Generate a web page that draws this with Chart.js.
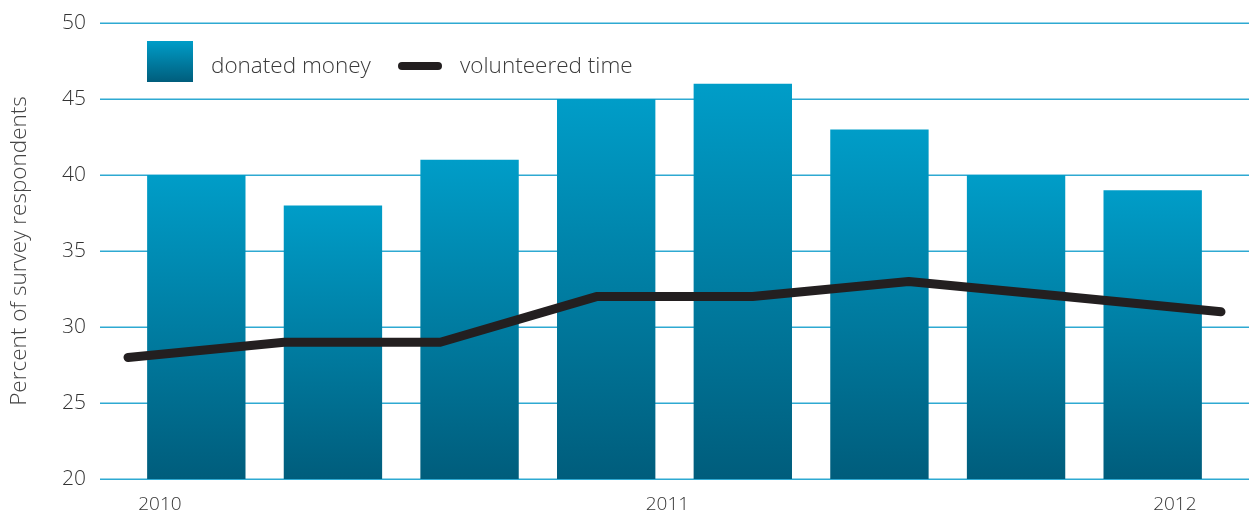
<!DOCTYPE html>
<html>
<head>
<meta charset="utf-8" />
<script src="https://cdn.jsdelivr.net/npm/chart.js"></script>
<style>
  html, body { margin: 0; padding: 0; background: #fff; }
  #wrap { position: relative; width: 1249px; height: 513px; }
  canvas { position: absolute; left: 0; top: 0; }
  .legend { position: absolute; font-family: "Open Sans", sans-serif; font-weight: 300; font-size: 22.5px; color: #3a3a3a; line-height: 30px; }
  .swatch { position: absolute; left: 147px; top: 41px; width: 46px; height: 41px;
    background: linear-gradient(#009dc8, #005d7c); }
  .dash { position: absolute; left: 398px; top: 62px; width: 44px; height: 8px; border-radius: 4px; background: #231f20; }
</style>
</head>
<body>
<div id="wrap">
  <canvas id="chart" width="1249" height="513"></canvas>
  <div class="swatch"></div>
  <div class="legend" style="left:211px; top:50px;">donated money</div>
  <div class="dash"></div>
  <div class="legend" style="left:460px; top:50px;">volunteered time</div>
</div>

<script>
  // periods (8 survey waves)
  const periods = ["P1", "P2", "P3", "P4", "P5", "P6", "P7", "P8"];
  const donatedMoney = [40, 38, 41, 45, 46, 43, 40, 39];
  const volunteeredTime = [28, 29, 29, 32, 32, 33, 32, 31];
  const yearTicks = [2010, 2011, 2012];
  const yTicks = [20, 25, 30, 35, 40, 45, 50];

  const FONT = "'Open Sans', sans-serif";

  // per-bar vertical gradient
  function barGradient(ctx) {
    const chart = ctx.chart;
    if (!chart.chartArea || ctx.raw == null) return "#007fa5";
    const y = chart.scales.y;
    const top = y.getPixelForValue(ctx.raw);
    const bottom = y.getPixelForValue(y.min);
    const g = chart.ctx.createLinearGradient(0, top, 0, bottom);
    g.addColorStop(0, "#009dc8");
    g.addColorStop(1, "#005d7c");
    return g;
  }

  // horizontal rules that run from the tick labels to the right edge
  const wideGrid = {
    id: "wideGrid",
    beforeDatasetsDraw(chart) {
      const c = chart.ctx;
      const y = chart.scales.y;
      c.save();
      c.strokeStyle = "#2ea9d2";
      c.lineWidth = 1.5;
      yTicks.forEach((v) => {
        const py = Math.round(y.getPixelForValue(v)) + 0.25;
        c.beginPath();
        c.moveTo(100, py);
        c.lineTo(chart.width, py);
        c.stroke();
      });
      c.restore();
    }
  };

  new Chart(document.getElementById("chart"), {
    type: "bar",
    data: {
      labels: periods,
      datasets: [
        {
          type: "line",
          label: "volunteered time",
          data: volunteeredTime,
          xAxisID: "xLine",
          borderColor: "#231f20",
          borderWidth: 9,
          borderCapStyle: "round",
          borderJoinStyle: "round",
          pointRadius: 0,
          tension: 0,
          clip: false,
          order: 0
        },
        {
          type: "bar",
          label: "donated money",
          data: donatedMoney,
          xAxisID: "x",
          backgroundColor: barGradient,
          barPercentage: 0.72,
          categoryPercentage: 1,
          grouped: false,
          order: 1
        }
      ]
    },
    options: {
      responsive: false,
      animation: false,
      layout: { padding: { top: 23, right: 28, bottom: 0, left: 0 } },
      plugins: { legend: { display: false }, tooltip: { enabled: false } },
      scales: {
        x: { type: "category", display: false, offset: true },
        xLine: { type: "category", labels: periods, display: false, offset: false },
        xYear: {
          type: "linear",
          position: "bottom",
          offset: false,
          min: 2009.937,
          max: 2012.091,
          afterBuildTicks(scale) { scale.ticks = yearTicks.map((v) => ({ value: v })); },
          afterFit(scale) { scale.height = 34; },
          grid: { display: false, drawTicks: false },
          border: { display: false },
          ticks: {
            padding: 14,
            color: "#333",
            font: { family: FONT, size: 19, weight: 300 },
            callback: (v) => String(v),
            maxRotation: 0,
            autoSkip: false
          }
        },
        y: {
          min: 20,
          max: 50,
          afterBuildTicks(scale) { scale.ticks = yTicks.map((v) => ({ value: v })); },
          afterFit(scale) { scale.width = 128; },
          // invisible tick marks push the labels left of the plot
          grid: { display: false, drawTicks: true, tickLength: 40 },
          border: { display: false },
          ticks: {
            padding: 2,
            color: "#333",
            font: { family: FONT, size: 21, weight: 300 }
          },
          title: {
            display: true,
            text: "Percent of survey respondents",
            color: "#444",
            font: { family: FONT, size: 22.5, weight: 300 },
            padding: { top: 6, bottom: 0 }
          }
        }
      }
    },
    plugins: [wideGrid]
  });
</script>
</body>
</html>
